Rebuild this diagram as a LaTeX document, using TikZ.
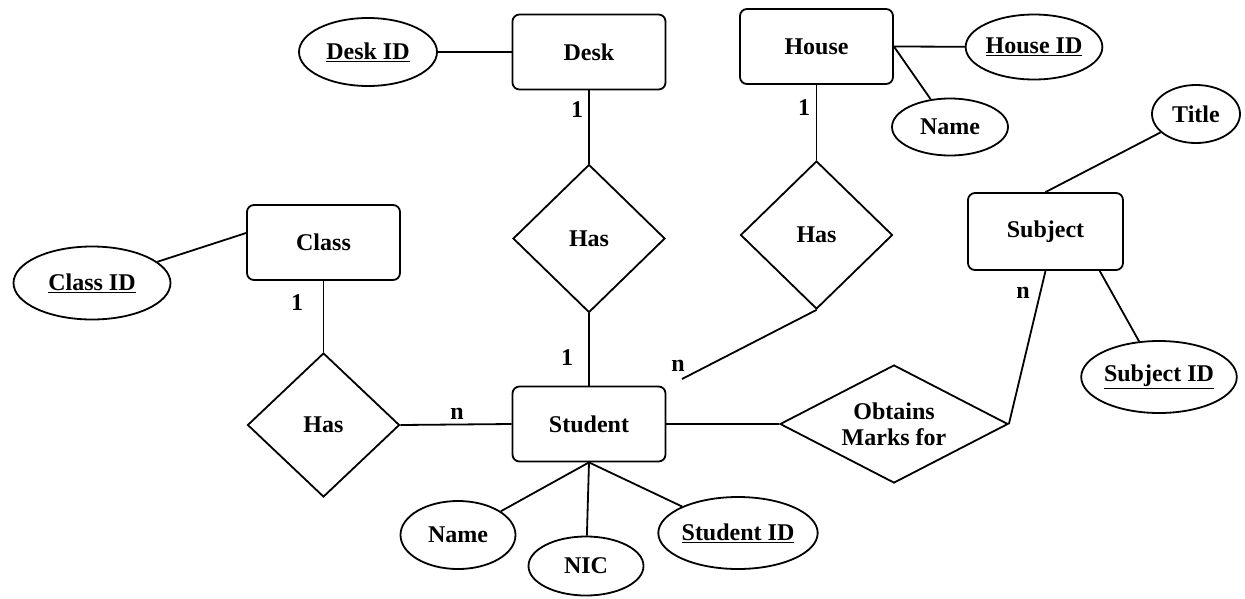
\documentclass[tikz,border=0pt]{standalone}
\usepackage{fontspec}
\setmainfont{Liberation Serif}
\usetikzlibrary{shapes.geometric,calc}
\begin{document}
\begin{tikzpicture}[x=1pt,y=-1pt,
  every node/.style={font=\fontsize{24}{26}\selectfont\bfseries},
  conn/.style={line width=1.8pt},
  entity/.style={draw,line width=1.8pt,rounded corners=7pt,inner sep=0pt,minimum width=153pt,minimum height=75pt},
  attr/.style={draw,line width=1.8pt,ellipse,inner sep=0pt},
  rel/.style={draw,line width=1.8pt,diamond,inner sep=0pt,minimum width=152pt,minimum height=148pt},
  card/.style={inner sep=0pt}]
\useasboundingbox (0,0) rectangle (1245,598);
% entities
\node[entity] (desk) at (589,52) {Desk};
\node[entity] (house) at (816.5,46.5) {House};
\node[entity] (class) at (323.5,242.5) {Class};
\node[entity,minimum width=155pt,minimum height=77pt] (subject) at (1045.5,231.5) {Subject};
\node[entity] (student) at (589,424) {Student};
% attributes
\node[attr,minimum width=138pt,minimum height=68pt] (deskid) at (368,52) {\underline{Desk ID}};
\node[attr,minimum width=132pt,minimum height=65pt] (houseid) at (1034,47) {\underline{House ID}};
\node[attr,minimum width=116pt,minimum height=57pt] (hname) at (950,127) {Name};
\node[attr,minimum width=88pt,minimum height=58pt] (title) at (1196,114) {Title};
\node[attr,minimum width=152pt,minimum height=72pt] (subjid) at (1159,377) {\underline{Subject ID}};
\node[attr,minimum width=157pt,minimum height=73pt] (classid) at (92,283) {\underline{Class ID}};
\node[attr,minimum width=115pt,minimum height=68pt] (sname) at (458,535) {Name};
\node[attr,minimum width=115pt,minimum height=59pt] (nic) at (586,566) {NIC};
\node[attr,minimum width=150pt,minimum height=72pt] (sid) at (738,533) {\underline{Student ID}};
% relationships
\node[rel] (hasdesk) at (589,238.5) {Has};
\node[rel] (hashouse) at (816.5,235) {Has};
\node[rel,minimum height=144pt] (hasclass) at (323.5,425) {Has};
\node[rel,aspect=1.93,minimum width=228pt,minimum height=118pt,align=center] (obtains) at (894,424) {Obtains\\Marks for};
\coordinate (hend) at (682,379);
% connectors
\draw[conn] (deskid) -- (desk.west);
\draw[conn] (house.east) -- (houseid);
\draw[conn] (house.east) -- (hname);
\draw[conn] (title) -- (subject.north);
\draw[conn] (subject.-36) -- (subjid);
\draw[conn] (class.173) -- (classid);
\draw[conn] (desk.south) -- (hasdesk.north);
\draw[conn] (hasdesk.south) -- (student.north);
\draw[conn] (house.south) -- (hashouse.north);
\draw[conn] (hashouse.south) -- (hend);
\draw[conn] (class.south) -- (hasclass.north);
\draw[conn] (hasclass.east) -- (student.west);
\draw[conn] (student.east) -- (obtains.west);
\draw[conn] (subject.south) -- (obtains.east);
\draw[conn] (student.south) -- (sname);
\draw[conn] (student.south) -- (nic);
\draw[conn] (student.south) -- (sid);
% cardinalities
\node[card] (c1) at (577,110) {1};
\node[card] (c2) at (567,358) {1};
\node[card] (c3) at (804,108) {1};
\node[card] (c4) at (297,303) {1};
\node[card] (c5) at (457,414) {n};
\node[card] (c6) at (678,366) {n};
\node[card] (c7) at (1023,293) {n};
\end{tikzpicture}
\end{document}
